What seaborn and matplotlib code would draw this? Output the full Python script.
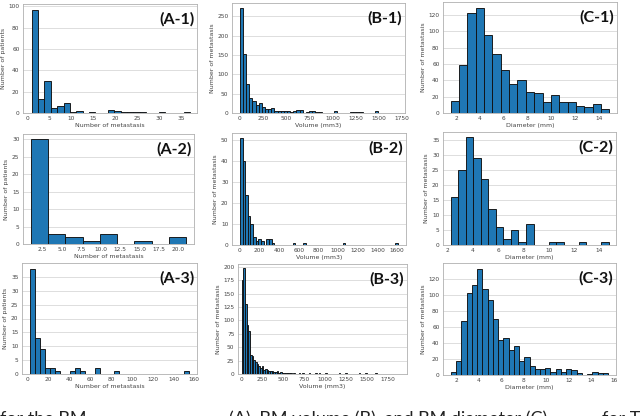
import numpy as np
import pandas as pd
import seaborn as sns
import matplotlib.pyplot as plt

# ---- data (bin counts per panel) ----
# row 1
a1_counts = [96, 13, 30, 5, 7, 9, 1, 2, 0, 1, 0, 0, 3, 2, 1, 1, 1, 1, 0, 0, 1, 0, 0, 0, 1]
a1_range = (1, 37)
b1_counts = [270, 152, 75, 40, 32, 20, 25, 16, 10, 10, 12, 6, 5, 5, 4, 6, 3, 5, 7, 7,
             1, 2, 4, 5, 3, 2, 1, 1, 1, 1, 4, 1, 1, 0, 0, 2, 3, 2, 3, 1,
             1, 1, 1, 4, 1, 0, 1, 1, 1, 1]
b1_range = (0, 1700)
c1_counts = [15, 59, 122, 129, 95, 72, 53, 35, 40, 26, 25, 14, 22, 14, 13, 8, 7, 11, 5]
c1_range = (1.55, 14.85)

# row 2
a2_counts = [30, 3, 2, 1, 3, 0, 1, 0, 2]
a2_range = (1, 21)
b2_counts = [51, 40, 24, 14, 10, 4, 2, 3, 2, 0, 3, 3, 1, 0, 0, 0, 0, 0, 0, 0,
             1, 0, 0, 0, 1, 0, 0, 0, 0, 0, 0, 0, 0, 0, 0, 0, 0, 0, 0, 1,
             0, 0, 0, 0, 0, 0, 0, 0, 0, 0, 0, 0, 0, 0, 0, 0, 0, 0, 0, 1]
b2_range = (0, 1610)
c2_counts = [16, 25, 36, 29, 22, 12, 6, 2, 5, 1, 7, 0, 0, 1, 1, 0, 0, 1, 0, 0, 1]
c2_range = (2.26, 14.73)

# row 3
a3_counts = [38, 13, 9, 2, 2, 1, 0, 0, 1, 2, 1, 0, 0, 2, 0, 0, 0, 1, 0, 0,
             0, 0, 0, 0, 0, 0, 0, 0, 0, 0, 0, 1]
a3_range = (2, 155)
b3_counts = [175, 197, 130, 92, 80, 36, 33, 27, 22, 19, 14, 11, 15, 8, 10, 7, 6, 5, 6, 4,
             3, 5, 2, 3, 1, 2, 1, 1, 2, 1, 0, 1, 0, 0, 1, 0, 1, 0, 0, 0,
             1, 0, 0, 0, 1, 0, 1, 0, 0, 0, 1, 0, 0, 0, 0, 0, 0, 0, 1, 0,
             0, 0, 1, 0, 0, 0, 0, 0, 0, 0, 1, 0, 0, 0, 1, 0, 0, 0, 0, 0,
             1, 0, 0, 0, 0, 0, 0, 0, 0, 0, 0, 0, 0, 0, 0]
b3_range = (0, 1900)
c3_counts = [4, 18, 68, 103, 113, 133, 108, 94, 70, 44, 46, 31, 36, 18, 22, 11, 7, 8, 9, 4,
             8, 4, 7, 6, 2, 0, 1, 4, 2, 3]
c3_range = (1.5, 15.5)

xlab_a = 'Number of metastasis'
xlab_b = 'Volume (mm3)'
xlab_c = 'Diameter (mm)'
ylab_a = 'Number of patients'
ylab_bc = 'Number of metastasis'

panels = [
    # name, counts, range, xlabel, ylabel, axes box in px (l, r, t, b), xlim, ylim, xticks, yticks
    ('(A-1)', a1_counts, a1_range, xlab_a, ylab_a, (23, 197, 4, 113), (-1, 38.5), (0, 102),
     np.arange(0, 36, 5), np.arange(0, 101, 20)),
    ('(B-1)', b1_counts, b1_range, xlab_b, ylab_bc, (232, 405, 3, 113), (-85, 1785), (0, 284),
     np.arange(0, 1751, 250), np.arange(0, 251, 50)),
    ('(C-1)', c1_counts, c1_range, xlab_c, ylab_bc, (443, 617, 2, 113), (0.9, 15.5), (0, 136),
     np.arange(2, 15, 2), np.arange(0, 121, 20)),
    ('(A-2)', a2_counts, a2_range, xlab_a, ylab_a, (23, 194, 134, 244), (0.0, 22.0), (0, 31.5),
     np.arange(2.5, 20.1, 2.5), np.arange(0, 31, 5)),
    ('(B-2)', b2_counts, b2_range, xlab_b, ylab_bc, (232, 406, 133, 245), (-80, 1690), (0, 53.5),
     np.arange(0, 1601, 200), np.arange(0, 51, 10)),
    ('(C-2)', c2_counts, c2_range, xlab_c, ylab_bc, (443, 616, 132, 245), (1.65, 15.3), (0, 37.8),
     np.arange(2, 15, 2), np.arange(0, 36, 5)),
    ('(A-3)', a3_counts, a3_range, xlab_a, ylab_a, (22, 197, 263, 374), (-5.5, 162.5), (0, 40),
     np.arange(0, 161, 20), np.arange(0, 36, 5)),
    ('(B-3)', b3_counts, b3_range, xlab_b, ylab_bc, (238, 407, 264, 374), (-45, 1980), (0, 205),
     np.arange(0, 1751, 250), np.arange(0, 201, 25)),
    ('(C-3)', c3_counts, c3_range, xlab_c, ylab_bc, (443, 616, 263, 375), (0.8, 16.2), (0, 140),
     np.arange(2, 17, 2), np.arange(0, 121, 20)),
]

sns.set_style('white')
plt.rcParams['font.family'] = ['DejaVu Sans']

W, H = 640, 416
fig = plt.figure(figsize=(W / 100, H / 100), dpi=100)

for name, counts, rng, xlab, ylab, box, xlim, ylim, xt, yt in panels:
    l, r, t, b = box
    ax = fig.add_axes([l / W, 1 - b / H, (r - l) / W, (b - t) / H])
    nb = len(counts)
    width = (rng[1] - rng[0]) / nb
    # one weighted entry at the centre of every bin
    df = pd.DataFrame({'x': [rng[0] + width * (i + 0.5) for i in range(nb)], 'n': counts})
    sns.histplot(data=df, x='x', weights='n', bins=nb, binrange=rng, ax=ax,
                 color='#1f77b4', edgecolor='#111111', linewidth=0.65, alpha=1)
    ax.set_xlim(*xlim)
    ax.set_ylim(*ylim)
    ax.set_xticks(xt)
    ax.set_yticks(yt)
    if name == '(A-2)':
        ax.set_xticklabels([f'{v:.1f}' for v in xt])
    ax.yaxis.grid(True, color='#d8d8d8', linewidth=0.6)
    ax.set_axisbelow(True)
    ax.tick_params(labelsize=4.2, colors='#444444', length=1.5, width=0.4, pad=1)
    for s in ax.spines.values():
        s.set_color('#b0b0b0')
        s.set_linewidth(0.6)
    ax.set_xlabel(xlab, fontsize=4.5, color='#444444', labelpad=1)
    ax.set_ylabel(ylab, fontsize=4.5, color='#444444', labelpad=2)
    ax.text(0.985, 0.93, name, transform=ax.transAxes, ha='right', va='top',
            fontsize=11.5, fontweight='bold', family=['Lato', 'DejaVu Sans'], color='#111111')

# caption line, cut by the bottom edge of the image as in the reference
cap_font = dict(fontsize=13, family=['Lato', 'DejaVu Sans'], color='#222222', va='baseline')
fig.text(0.0, -0.02, 'for the BM', **cap_font)
fig.text(0.358, -0.02, '(A), BM volume (B), and BM diameter (C)', **cap_font)
fig.text(0.94, -0.02, 'for T', **cap_font)

fig.savefig('out.png', dpi=100)
